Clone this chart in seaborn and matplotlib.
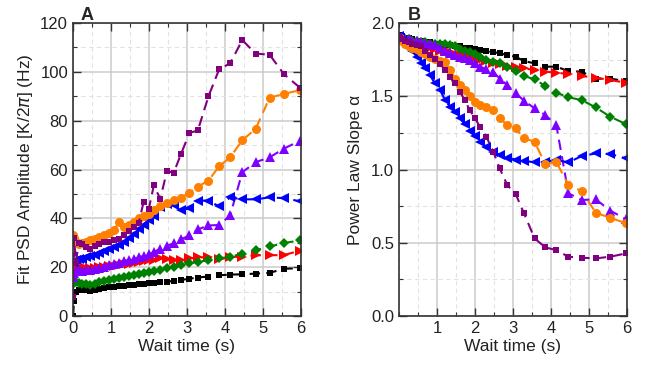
import numpy as np
import pandas as pd
import matplotlib
matplotlib.use("Agg")
import matplotlib.pyplot as plt
import seaborn as sns
from matplotlib.ticker import MultipleLocator

# wait times (s), shared by all traces
t = [0.0, 0.03, 0.08, 0.15, 0.25, 0.35, 0.46, 0.57, 0.69, 0.81, 0.94, 1.08,
     1.21, 1.34, 1.47, 1.6, 1.73, 1.86, 2.0, 2.13, 2.3, 2.48, 2.65, 2.85,
     3.07, 3.29, 3.57, 3.85, 4.14, 4.46, 4.81, 5.18, 5.56, 5.98]

# Panel A: fit PSD amplitude (Hz)
amp_black = [0, 6, 10, 10.5, 10.8, 10.5, 10.2, 10.6, 11, 11.3, 11.8, 12, 12.2, 12.5, 12.6,
             12.8, 13, 13.2, 13.5, 13.7, 13.9, 14.1, 14.4, 14.8, 15.3, 15.8, 16.2, 16.7,
             17.0, 17.1, 17.4, 17.7, 19.4, 19.6]
amp_red = [17, 18.5, 19.5, 20, 19.8, 19.6, 19.7, 19.8, 20, 20.2, 20.4, 20.6, 21, 21.2, 21.5,
           21.8, 22, 22.4, 22.8, 23.1, 23.6, 23.2, 22.9, 23, 23.6, 24, 24.1, 23.2, 24.2,
           24.3, 24.9, 24.9, 25, 26.8]
amp_green = [13, 14, 13.8, 13.5, 13.2, 13.0, 12.9, 13.3, 13.8, 14.3, 14.8, 15.2, 15.6, 16,
             16.5, 17, 17.4, 17.8, 18.2, 18.6, 19, 19.5, 20.1, 20.8, 21.6, 22.2, 22.9, 23.6,
             24.3, 25.6, 26.9, 28.5, 29.9, 31]
amp_violet = [16, 17.5, 18.5, 18.8, 18.5, 18.7, 19, 19.4, 19.8, 20.3, 20.8, 21.3, 21.8, 22.4,
              23, 23.5, 24, 24.6, 25.3, 26.2, 27.6, 28.8, 29.8, 31.5, 33, 35.5, 37.1, 37.3,
              41.2, 58.9, 63, 65, 68.6, 71.8]
amp_blue = [22, 22.5, 23, 23.5, 23.5, 24, 24.5, 25, 25.8, 26.5, 27.3, 28.3, 29.3, 30.5, 32,
            33.5, 35.5, 37.5, 39.5, 41, 44.6, 46, 45.3, 43.3, 44.2, 47.3, 47.3, 44.9, 48.6,
            47.8, 47.8, 48.6, 48.3, 47]
amp_orange = [33, 32, 30.5, 29.5, 30, 30.5, 31, 31.5, 32.2, 33, 34, 35.2, 38.5, 36.5, 37.5,
              38.5, 40, 41, 42, 43.5, 45, 46.5, 47.5, 48.5, 50.5, 53, 55.5, 61.3, 65, 72,
              76.6, 89.4, 91, 92.5]
amp_purple = [8, 32, 22, 30, 29.5, 28.3, 27.5, 28.5, 29.5, 30.3, 30.5, 31, 31.5, 33, 35, 36.5,
              38, 46.6, 44, 53.5, 48, 59.6, 58.5, 66.5, 75, 76, 90, 101, 103.5, 113, 107.5,
              107, 99, 93.5]

# Panel B: power law slope alpha
slope_black = [1.92, 1.91, 1.91, 1.9, 1.9, 1.89, 1.88, 1.88, 1.87, 1.87, 1.86, 1.86, 1.85,
               1.85, 1.84, 1.84, 1.83, 1.83, 1.82, 1.815, 1.806, 1.8, 1.795, 1.78, 1.77,
               1.74, 1.725, 1.702, 1.702, 1.672, 1.668, 1.62, 1.62, 1.604]
slope_red = [1.91, 1.9, 1.9, 1.89, 1.88, 1.87, 1.86, 1.85, 1.84, 1.83, 1.82, 1.81, 1.806,
             1.8, 1.79, 1.785, 1.78, 1.77, 1.76, 1.75, 1.74, 1.73, 1.72, 1.71, 1.7, 1.69,
             1.68, 1.668, 1.661, 1.652, 1.638, 1.627, 1.611, 1.592]
slope_green = [1.9, 1.9, 1.9, 1.89, 1.89, 1.88, 1.88, 1.87, 1.87, 1.86, 1.86, 1.86, 1.86,
               1.85, 1.84, 1.82, 1.81, 1.8, 1.786, 1.77, 1.75, 1.735, 1.725, 1.7, 1.672,
               1.638, 1.616, 1.57, 1.525, 1.493, 1.474, 1.424, 1.36, 1.31]
slope_violet = [1.91, 1.9, 1.9, 1.89, 1.89, 1.88, 1.88, 1.87, 1.865, 1.86, 1.85, 1.83, 1.81,
                1.795, 1.782, 1.77, 1.76, 1.745, 1.725, 1.702, 1.685, 1.668, 1.62, 1.577,
                1.52, 1.47, 1.417, 1.372, 1.304, 0.838, 0.792, 0.797, 0.72, 0.66]
slope_blue = [1.91, 1.9, 1.88, 1.86, 1.84, 1.81, 1.77, 1.73, 1.69, 1.645, 1.59, 1.543, 1.474,
              1.43, 1.39, 1.35, 1.31, 1.26, 1.23, 1.19, 1.155, 1.12, 1.1, 1.08, 1.068, 1.06,
              1.049, 1.053, 1.065, 1.049, 1.092, 1.11, 1.106, 1.076]
slope_orange = [1.9, 1.9, 1.88, 1.86, 1.84, 1.83, 1.82, 1.8, 1.79, 1.77, 1.755, 1.74, 1.737,
                1.68, 1.62, 1.58, 1.54, 1.5, 1.463, 1.44, 1.429, 1.406, 1.35, 1.304, 1.281,
                1.213, 1.19, 1.035, 1.053, 0.894, 0.853, 0.705, 0.671, 0.633]
slope_purple = [1.91, 1.9, 1.89, 1.88, 1.87, 1.86, 1.85, 1.84, 1.81, 1.78, 1.755, 1.72, 1.68,
                1.63, 1.588, 1.531, 1.474, 1.406, 1.35, 1.292, 1.224, 1.122, 1.008, 0.894,
                0.833, 0.701, 0.53, 0.469, 0.45, 0.405, 0.398, 0.394, 0.405, 0.428]

colors = ["#000000", "#ff0000", "#008000", "#8000ff", "#0000ff", "#ff8000", "#800080"]
markers = ["s", ">", "D", "^", "<", "o", "s"]
amps = [amp_black, amp_red, amp_green, amp_violet, amp_blue, amp_orange, amp_purple]
slopes = [slope_black, slope_red, slope_green, slope_violet, slope_blue, slope_orange, slope_purple]

sns.set_style("ticks")
plt.rcParams['font.family'] = ['Liberation Sans', 'DejaVu Sans']

fig = plt.figure(figsize=(6.51, 3.71), dpi=100)
axA = fig.add_axes([0.112, 0.148, 0.350, 0.790])
axB = fig.add_axes([0.613, 0.148, 0.350, 0.790])


def draw(ax, series):
    for vals, c, m in zip(series, colors, markers):
        df = pd.DataFrame({"t": t, "v": vals})
        ms = 5 if m in ("D", "s") else 6.5
        sns.lineplot(data=df, x="t", y="v", ax=ax, color=c, marker=m, markersize=ms,
                     markeredgewidth=0, linestyle=(0, (5, 3)), linewidth=1.5,
                     estimator=None, sort=False)


def style(ax):
    ax.set_xlim(0, 6)
    ax.xaxis.set_major_locator(MultipleLocator(1))
    ax.xaxis.set_minor_locator(MultipleLocator(0.5))
    ax.grid(which="major", color="#cccccc", linewidth=1.1)
    ax.grid(which="minor", color="#e2e2e2", linewidth=0.8, linestyle=(0, (4, 3)))
    ax.set_axisbelow(True)
    ax.tick_params(which="both", direction="in", top=True, right=True, labelsize=12,
                   color="#333333", labelcolor="#222222")
    ax.tick_params(which="major", length=6, width=1)
    ax.tick_params(which="minor", length=3, width=0.8)
    for s in ax.spines.values():
        s.set_color("#333333")
        s.set_linewidth(1.2)
    ax.set_xlabel("Wait time (s)", fontsize=12.5, labelpad=2, color="#222222")


draw(axA, amps)
style(axA)
axA.set_ylim(0, 120)
axA.yaxis.set_major_locator(MultipleLocator(20))
axA.yaxis.set_minor_locator(MultipleLocator(10))
axA.set_ylabel("Fit PSD Amplitude [K/2$\\pi$] (Hz)", fontsize=12.5, labelpad=4, color="#222222")

draw(axB, slopes)
style(axB)
axB.set_ylim(0, 2.0)
axB.yaxis.set_major_locator(MultipleLocator(0.5))
axB.yaxis.set_minor_locator(MultipleLocator(0.25))
axB.yaxis.set_major_formatter(matplotlib.ticker.FormatStrFormatter("%.1f"))
axB.set_xticks([1, 2, 3, 4, 5, 6])
axB.set_ylabel("Power Law Slope \u03b1", fontsize=12.5, labelpad=6, color="#222222")

fig.text(0.123, 0.945, "A", fontsize=13, fontweight="bold")
fig.text(0.626, 0.945, "B", fontsize=13, fontweight="bold")

fig.savefig("out.png", dpi=100)
